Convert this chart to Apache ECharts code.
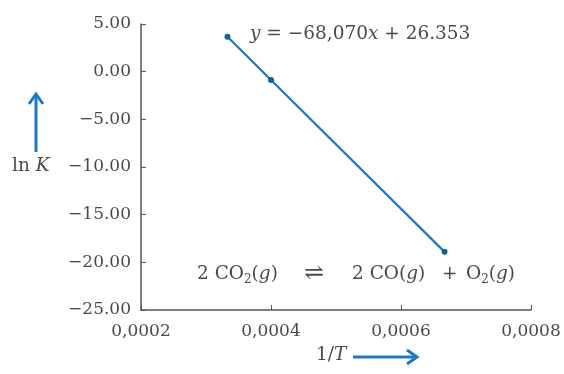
<!DOCTYPE html>
<html><head><meta charset="utf-8">
<script src="https://cdn.jsdelivr.net/npm/echarts@6/dist/echarts.min.js"></script>
<style>html,body{margin:0;padding:0;background:#fff}#c{width:564px;height:374px}</style>
</head><body><div id="c"></div>
<script>
const invT = [0.000333, 0.0004, 0.000667];
const lnK = [3.66, -0.88, -18.9];
const xTicks = [0.0002, 0.0004, 0.0006, 0.0008];
const yTicks = [5, 0, -5, -10, -15, -20, -25];

const FONT = '"DejaVu Serif", "Liberation Serif", serif';
const TXT = '#4a4a4a';
const BLUE = '#1f78bf';
const FS = 17;
const FA = 18.5;
const chart = echarts.init(document.getElementById('c'));
function arrowHead(x, y, dir) {
  if (dir === 'up') return [[x - 7, y + 10], [x, y], [x + 7, y + 10]];
  return [[x - 10, y - 7], [x, y], [x - 10, y + 7]];
}
const it = { fontStyle: 'italic', fontFamily: FONT, fontSize: FA, fill: TXT };
const sub = { fontFamily: FONT, fontSize: 12, fill: TXT, padding: [10, 0, 0, 0] };
function txt(left, top, text, extra) {
  return { type: 'text', left: left, top: top,
    style: Object.assign({ text: text, fontFamily: FONT, fontSize: FA, fill: TXT, rich: { i: it, s: sub } }, extra || {}) };
}
chart.setOption({
  animation: false,
  grid: { left: 141, right: 33, top: 24, bottom: 64 },
  xAxis: {
    type: 'value', min: xTicks[0], max: xTicks[xTicks.length - 1], interval: 0.0002,
    axisLine: { onZero: false, lineStyle: { color: '#555', width: 1.5 } },
    axisTick: { inside: true, length: 5, lineStyle: { color: '#555' } },
    splitLine: { show: false },
    axisLabel: { color: TXT, fontFamily: FONT, fontSize: FS, margin: 13,
      formatter: v => v.toFixed(4).replace('.', ',') }
  },
  yAxis: {
    type: 'value', min: yTicks[yTicks.length - 1], max: yTicks[0], interval: 5,
    axisLine: { show: true, onZero: false, lineStyle: { color: '#555', width: 1.5 } },
    axisTick: { show: true, inside: true, length: 5, lineStyle: { color: '#555' } },
    splitLine: { show: false },
    axisLabel: { color: TXT, fontFamily: FONT, fontSize: FS, margin: 10,
      formatter: v => (v < 0 ? '−' : '') + Math.abs(v).toFixed(2) }
  },
  series: [{
    type: 'line',
    data: invT.map((x, i) => [x, lnK[i]]),
    lineStyle: { color: BLUE, width: 2.2 },
    symbol: 'circle', symbolSize: 6,
    itemStyle: { color: '#17608f' }
  }],
  graphic: [
    txt(250, 25, '{i|y} = −68,070{i|x} + 26.353'),
    txt(197, 265, '2 CO{s|2}({i|g})'),
    txt(304, 262, '⇌', { fontSize: 24 }),
    txt(352, 265, '2 CO({i|g})'),
    txt(442, 265, '+'),
    txt(466, 265, 'O{s|2}({i|g})'),
    txt(12, 157, 'ln {i|K}'),
    txt(316, 346, '1/{i|T}'),
    { type: 'line', shape: { x1: 36, y1: 152, x2: 36, y2: 95 }, style: { stroke: BLUE, lineWidth: 3 } },
    { type: 'polyline', shape: { points: arrowHead(36, 94, 'up') }, style: { stroke: BLUE, lineWidth: 3, fill: null } },
    { type: 'line', shape: { x1: 353, y1: 357, x2: 416, y2: 357 }, style: { stroke: BLUE, lineWidth: 3 } },
    { type: 'polyline', shape: { points: arrowHead(417, 357, 'right') }, style: { stroke: BLUE, lineWidth: 3, fill: null } }
  ]
});
</script></body></html>
